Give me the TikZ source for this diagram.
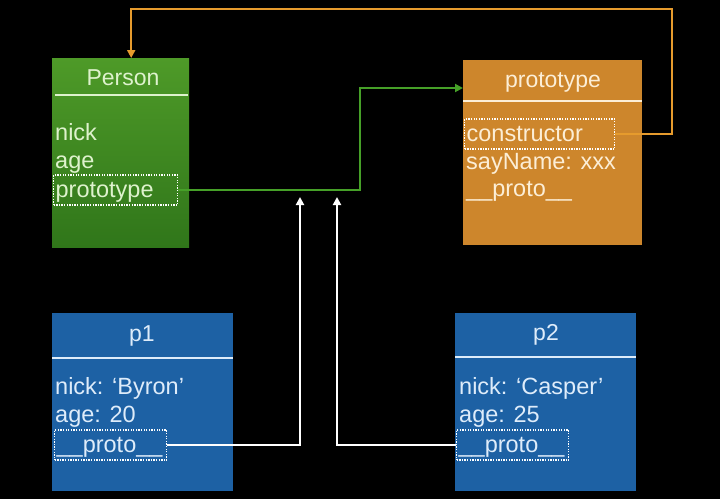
\documentclass[tikz,border=0pt]{standalone}
\usepackage{fontspec}
\setmainfont{Liberation Sans}
\usepackage{tikz}
\usetikzlibrary{arrows.meta,positioning}
\definecolor{ctorgreen}{RGB}{78,154,40}
\definecolor{ctorgreendark}{RGB}{48,118,26}
\definecolor{protoorange}{RGB}{205,134,44}
\definecolor{instblue}{RGB}{29,97,164}
\definecolor{greentext}{RGB}{222,242,205}
\definecolor{orangetext}{RGB}{252,238,214}
\definecolor{bluetext}{RGB}{222,236,250}
\definecolor{linkorange}{RGB}{230,155,45}
\definecolor{linkgreen}{RGB}{70,160,40}
\tikzset{
    %Define standard arrow tip
    >={Triangle[width=8pt,length=8pt]},
    %Define style for boxes
    classbox/.style={
           rectangle,
           draw=none,
           anchor=north west,
           inner sep=0pt},
    title/.style={
           anchor=base,
           font=\fontsize{23}{26}\selectfont,
           inner sep=0pt},
    field/.style={
           anchor=base west,
           font=\fontsize{23.5}{26}\selectfont,
           inner sep=0pt},
    slot/.style={
           rectangle,
           anchor=base west,
           draw=white, line width=1.3pt,
           dash pattern=on 1.3pt off 1.3pt,
           inner xsep=2pt, inner ysep=2pt,
           text height=20pt, text depth=6pt,
           font=\fontsize{23.5}{26}\selectfont,
           align=left},
    rule/.style={line width=2pt},
    % Define arrow style
    link/.style={
           ->,
           line width=2pt}
}
\begin{document}
\begin{tikzpicture}[x=1pt,y=-1pt]
\fill[black] (0,0) rectangle (720,499);
\useasboundingbox (0,0) rectangle (720,499);

% Person
\node[classbox, top color=ctorgreen, bottom color=ctorgreendark, minimum width=137pt, minimum height=189pt] (person) at (52,58) {};
\node[title, text=greentext] (persontitle) at (123,85) {Person};
\draw[rule, greentext] (55,95) -- (188,95);
\node[field, text=greentext] (nick) at (55,140) {nick};
\node[field, text=greentext] (age) at (55,168) {age};
\node[slot, text=greentext, text width=120pt] (pslot) at (53,197) {prototype};

% prototype
\node[classbox, fill=protoorange, minimum width=179pt, minimum height=185pt] (proto) at (463,60) {};
\node[title, text=orangetext] (prototitle) at (553,87) {prototype};
\draw[rule, orangetext] (463,101) -- (642,101);
\node[slot, text=orangetext, text width=146pt] (ctor) at (464,141) {constructor};
\node[field, text=orangetext] (sayname) at (466,169) {sayName: xxx};
\node[field, text=orangetext] (pproto) at (466,196) {\_\_proto\_\_};

% p1
\node[classbox, fill=instblue, minimum width=181pt, minimum height=178pt] (p1) at (52,313) {};
\node[title, text=bluetext] (p1title) at (142,341) {p1};
\draw[rule, bluetext] (52,358) -- (233,358);
\node[field, text=bluetext] (nick1) at (55,394) {nick: ‘Byron’};
\node[field, text=bluetext] (age1) at (55,422) {age: 20};
\node[slot, text=bluetext, text width=108pt] (slot1) at (54,452) {\_\_proto\_\_};

% p2
\node[classbox, fill=instblue, minimum width=181pt, minimum height=178pt] (p2) at (455,313) {};
\node[title, text=bluetext] (p2title) at (546,340) {p2};
\draw[rule, bluetext] (455,357) -- (636,357);
\node[field, text=bluetext] (nick2) at (459,394) {nick: ‘Casper’};
\node[field, text=bluetext] (age2) at (459,422) {age: 25};
\node[slot, text=bluetext, text width=108pt] (slot2) at (456,452) {\_\_proto\_\_};

% links
\coordinate (oc) at (672,9);
\coordinate (gc) at (360,88);
\coordinate (w1) at (300,197);
\coordinate (w2) at (337,197);
\draw[link, linkorange] (ctor.east) -| (oc) -| ([xshift=10.5pt]person.north);
\draw[link, linkgreen] (pslot.east) -| (gc) -- (gc -| proto.west);
\draw[link, white] (slot1.east) -| (w1);
\draw[link, white] (slot2.west) -| (w2);
\end{tikzpicture}
\end{document}
